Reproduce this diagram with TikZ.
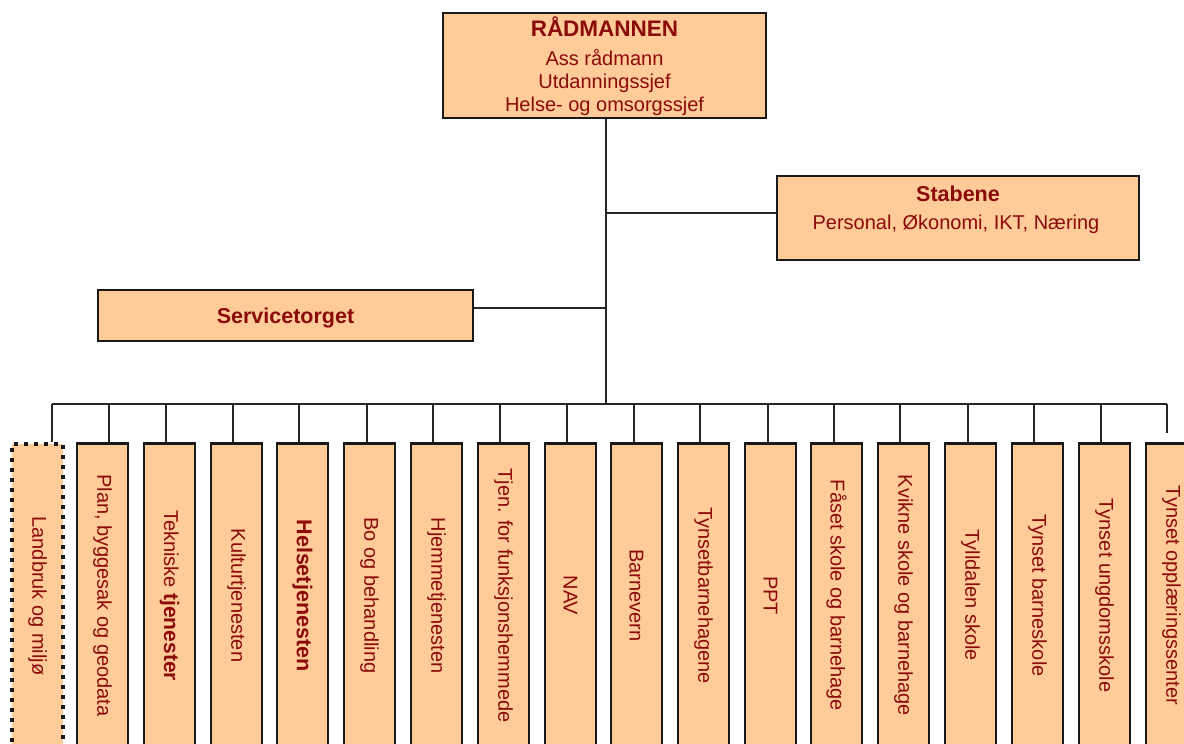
\documentclass[tikz,border=0pt]{standalone}
\usepackage{fontspec}
\setmainfont{Liberation Sans}
\usepackage{graphicx}
\definecolor{peach}{HTML}{FFCC99}
\definecolor{txt}{HTML}{8B0A0A}
\begin{document}
\begin{tikzpicture}[x=1pt,y=-1pt,
  box/.style={draw=black!90, line width=2.9pt, fill=peach, inner sep=0pt, text=txt},
  col/.style={box, minimum width=51pt, minimum height=304pt, anchor=north,
     font=\fontsize{20}{24}\selectfont},
  dottedcol/.style={line width=4pt, dash pattern=on 4pt off 6pt},
  conn/.style={draw=black!85, line width=1.1pt},
  ttl/.style={text=txt, anchor=base, inner sep=0pt, font=\bfseries\fontsize{21.5}{26}\selectfont},
  sub/.style={text=txt, anchor=base, inner sep=0pt, font=\fontsize{20}{24}\selectfont}]
\fill[white] (0,0) rectangle (1184,744);
\clip (0,0) rectangle (1184,744);

% top box
\node[box, minimum width=323pt, minimum height=105pt] (rad) at (604.5,65.5) {};
\node[ttl, font=\bfseries\fontsize{22.5}{26}\selectfont] (radt) at (604.5,36.5) {RÅDMANNEN};
\node[sub] (rad1) at (604.5,65) {Ass rådmann};
\node[sub] (rad2) at (604.5,88) {Utdanningssjef};
\node[sub] (rad3) at (604.5,111.5) {Helse- og omsorgssjef};

% Stabene
\node[box, minimum width=362pt, minimum height=84pt] (stab) at (958,218) {};
\node[ttl] (stabt) at (958,201.5) {Stabene};
\node[sub] (stab1) at (956,229.3) {Personal, Økonomi, IKT, Næring};

% Servicetorget
\node[box, minimum width=375pt, minimum height=51pt] (serv) at (285.5,315.5) {};
\node[ttl] (servt) at (285.5,323.3) {Servicetorget};

% trunk
\coordinate (bus) at (606,404);
\coordinate (js) at (606,213);
\coordinate (jv) at (606,308);
\draw[conn] (rad.south -| bus) -- (bus);
\draw[conn] (js) -- (js -| stab.west);
\draw[conn] (jv) -- (jv -| serv.east);

% columns
\foreach \i/\lx/\dx/\t in {
  1/12/52/{Landbruk og miljø},
  2/77/109/{Plan, byggesak og geodata},
  3/144/166/{Tekniske {\bfseries\fontsize{21}{24}\selectfont tjenester}},
  4/211/233/{Kulturtjenesten},
  5/277/299/{{\bfseries\fontsize{21.5}{24}\selectfont Helsetjenesten}},
  6/344/367/{Bo og behandling},
  7/411/433/{Hjemmetjenesten},
  8/478/500/{Tjen. for funksjonshemmede},
  9/545/567/{NAV},
  10/611/634/{Barnevern},
  11/678/700/{Tynsetbarnehagene},
  12/745/768/{PPT},
  13/811/834/{Fåset skole og barnehage},
  14/878/900/{Kvikne skole og barnehage},
  15/945/968/{Tylldalen skole},
  16/1012/1034/{Tynset barneskole},
  17/1079/1101/{Tynset ungdomsskole},
  18/1146/1167/{Tynset opplæringssenter}}{
  \ifnum\i=1
    \node[col, dottedcol] (c\i) at (\lx+25.5,442) {\rotatebox{-90}{\t}};
  \else
    \node[col] (c\i) at (\lx+25.5,442) {\rotatebox{-90}{\t}};
  \fi
  \coordinate (d\i) at (\dx,404);
}
\draw[conn] (d1) -- (d18);
\foreach \i in {1,...,17}{
  \draw[conn] (d\i) -- (c\i.north -| d\i);
}
\coordinate (e18) at (1167,433);
\draw[conn] (d18) -- (e18);
\end{tikzpicture}
\end{document}
